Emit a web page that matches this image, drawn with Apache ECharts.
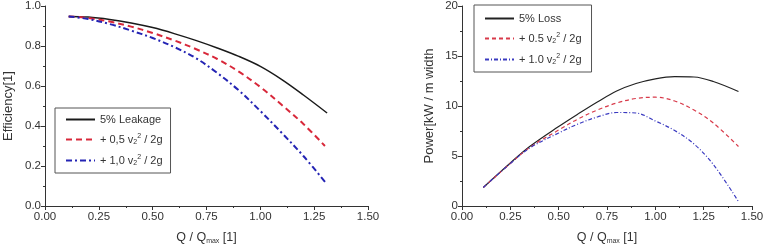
<!DOCTYPE html>
<html>
<head>
<meta charset="utf-8">
<script src="https://cdn.jsdelivr.net/npm/echarts@6/dist/echarts.min.js"></script>
<style>
  html, body { margin: 0; padding: 0; background: #fff; }
  #main { width: 768px; height: 252px; }
</style>
</head>
<body>
<div id="main"></div>
<script>
// left: efficiency vs Q/Qmax
var effX = [0.11, 0.2, 0.3, 0.4, 0.5, 0.6, 0.7, 0.8, 0.9, 1.0, 1.1, 1.2, 1.31];
var effLeak = [0.948, 0.945, 0.933, 0.915, 0.892, 0.862, 0.828, 0.79, 0.748, 0.698, 0.632, 0.555, 0.465];
var effHalfX = [0.11, 0.2, 0.3, 0.4, 0.5, 0.6, 0.7, 0.8, 0.9, 1.0, 1.1, 1.2, 1.3];
var effHalf = [0.948, 0.94, 0.922, 0.897, 0.865, 0.828, 0.785, 0.735, 0.672, 0.595, 0.505, 0.41, 0.30];
var effOneX = [0.11, 0.2, 0.3, 0.4, 0.5, 0.6, 0.7, 0.8, 0.9, 1.0, 1.1, 1.2, 1.307];
var effOne = [0.948, 0.935, 0.91, 0.877, 0.84, 0.795, 0.74, 0.665, 0.578, 0.475, 0.365, 0.25, 0.112];

// right: power vs Q/Qmax
var powX = [0.11, 0.25, 0.35, 0.5, 0.6, 0.7, 0.8, 0.9, 1.0, 1.1, 1.2, 1.3, 1.43];
var powLoss = [1.85, 4.3, 5.95, 7.95, 9.2, 10.4, 11.5, 12.25, 12.72, 12.93, 12.9, 12.45, 11.45];
var powHalf = [1.85, 4.25, 5.85, 7.6, 8.7, 9.6, 10.3, 10.75, 10.88, 10.5, 9.6, 8.3, 5.95];
var powOne = [1.85, 4.25, 5.8, 7.3, 8.2, 8.9, 9.35, 9.3, 8.5, 7.55, 6.2, 4.15, 0.45];

var xTicks = ['0.00', '0.25', '0.50', '0.75', '1.00', '1.25', '1.50'];
var effTicks = ['0.0', '0.2', '0.4', '0.6', '0.8', '1.0'];
var powTicks = ['0', '5', '10', '15', '20'];

var leftNames = ['5% Leakage', '+ 0,5 v2 / 2g', '+ 1,0 v2 / 2g'];
var rightNames = ['5% Loss', '+ 0.5 v2 / 2g', '+ 1.0 v2 / 2g'];

function pairs(xs, ys) {
    var out = [];
    for (var i = 0; i < xs.length; i++) out.push([xs[i], ys[i]]);
    return out;
}

var txt = '#333';
var font = 'Liberation Sans, Arial, sans-serif';

var legendRich = {
    sub: { fontSize: 7, verticalAlign: 'bottom', padding: [6, 0, 0, 0], color: txt },
    sup: { fontSize: 7, verticalAlign: 'top', padding: [0, 0, 6, 0], color: txt }
};
function legendFmt(name) {
    if (name.indexOf('v2') < 0) return name;
    var p = name.split('v2');
    return p[0] + 'v{sub|2}{sup|2}' + p[1];
}

function xAxisOf(gi) {
    return {
        type: 'value', gridIndex: gi, min: 0, max: 1.5, interval: 0.25,
        name: 'Q / Q{sub|max} [1]', nameLocation: 'middle', nameGap: 25,
        nameTextStyle: { color: txt, fontSize: 12.5, fontFamily: font,
            rich: { sub: { fontSize: 7, verticalAlign: 'bottom', padding: [7, 0, 0, 0], color: txt } } },
        axisLine: { lineStyle: { color: '#333', width: 1 } },
        axisTick: { length: 4, lineStyle: { color: '#333' } },
        minorTick: { show: true, splitNumber: 2, length: 2, lineStyle: { color: '#333' } },
        splitLine: { show: false },
        axisLabel: { color: txt, fontSize: 11.5, fontFamily: font, margin: 5,
            formatter: function (v) { return xTicks[Math.round(v / 0.25)]; } }
    };
}

function yAxisOf(gi, max, step, ticks, name, gap) {
    return {
        type: 'value', gridIndex: gi, min: 0, max: max, interval: step,
        name: name, nameLocation: 'middle', nameGap: gap,
        nameTextStyle: { color: txt, fontSize: 13, fontFamily: font },
        axisLine: { show: true, lineStyle: { color: '#333' } },
        axisTick: { show: true, length: 4, lineStyle: { color: '#333' } },
        minorTick: { show: true, splitNumber: 2, length: 2, lineStyle: { color: '#333' } },
        splitLine: { show: false },
        axisLabel: { color: txt, fontSize: 11.5, fontFamily: font, margin: 4,
            formatter: function (v) { return ticks[Math.round(v / step)]; } }
    };
}

function legendOf(names, left, top, pad) {
    return {
        data: names, orient: 'vertical', left: left, top: top,
        itemWidth: 29, itemHeight: 10, itemGap: 8,
        padding: pad, borderColor: '#555', borderWidth: 1,
        itemStyle: { opacity: 0 },
        textStyle: { color: txt, fontSize: 11, fontFamily: font, rich: legendRich },
        formatter: legendFmt
    };
}

function lineOf(name, gi, xs, ys, color, width, type) {
    return {
        name: name, type: 'line', xAxisIndex: gi, yAxisIndex: gi, smooth: 0.35, symbol: 'none',
        lineStyle: { color: color, width: width, type: type }, itemStyle: { color: color },
        data: pairs(xs, ys)
    };
}

var option = {
    animation: false,
    backgroundColor: '#fff',
    grid: [
        { left: 45, top: 4, width: 323, height: 202 },
        { left: 462, top: 6, width: 290, height: 200 }
    ],
    xAxis: [xAxisOf(0), xAxisOf(1)],
    yAxis: [
        yAxisOf(0, 1.0, 0.2, effTicks, 'Efficiency[1]', 30),
        yAxisOf(1, 20, 5, powTicks, 'Power[kW / m width', 26)
    ],
    legend: [
        legendOf(leftNames, 55, 108, [6, 8, 6, 10]),
        legendOf(rightNames, 474, 5, [8, 10, 6, 10])
    ],
    series: [
        lineOf(leftNames[0], 0, effX, effLeak, '#1a1a1a', 1.5, 'solid'),
        lineOf(leftNames[1], 0, effHalfX, effHalf, '#d8283a', 2, [6, 4]),
        lineOf(leftNames[2], 0, effOneX, effOne, '#2424b4', 2, [6, 3, 2, 3]),
        lineOf(rightNames[0], 1, powX, powLoss, '#222', 1.2, 'solid'),
        lineOf(rightNames[1], 1, powX, powHalf, '#d83a4a', 1.2, [4, 3]),
        lineOf(rightNames[2], 1, powX, powOne, '#3a3ac0', 1.2, [4, 2, 1, 2])
    ]
};

var myChart = echarts.init(document.getElementById('main'));
myChart.setOption(option);
</script>
</body>
</html>
